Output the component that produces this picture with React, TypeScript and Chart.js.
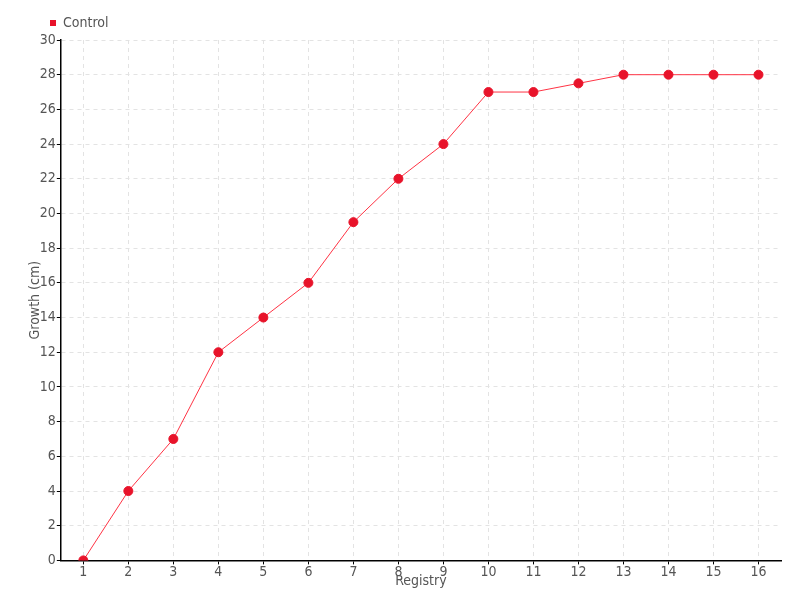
import React, { useEffect, useRef } from "react";
import { Chart, registerables } from "chart.js";

Chart.register(...registerables);

const categories = ["1", "2", "3", "4", "5", "6", "7", "8", "9", "10", "11", "12", "13", "14", "15", "16"];
const controlValues = [0, 4, 7, 12, 14, 16, 19.5, 22, 24, 27, 27, 27.5, 28, 28, 28, 28];
const seriesName = "Control";
const xTitle = "Registry";
const yTitle = "Growth (cm)";

const FONT = "'Liberation Sans Narrow', 'DejaVu Sans Condensed', 'DejaVu Sans', sans-serif";

export default function App() {
  const ref = useRef<HTMLCanvasElement>(null);
  useEffect(() => {
    document.body.style.margin = "0";
    const chart = new Chart(ref.current!, {
      type: "line",
      data: {
        labels: categories,
        datasets: [
          {
            label: seriesName,
            data: controlValues,
            borderColor: "#ff3344",
            backgroundColor: "#e8132a",
            pointBackgroundColor: "#e8132a",
            pointBorderColor: "#e8132a",
            borderWidth: 1,
            pointRadius: 4.5,
            pointStyle: "circle",
            tension: 0,
          },
        ],
      },
      options: {
        animation: false,
        responsive: false,
        layout: { padding: { left: 27, right: 19, top: 10, bottom: 10 } },
        plugins: {
          legend: {
            align: "start",
            labels: {
              usePointStyle: true,
              pointStyle: "rect",
              boxWidth: 6,
              boxHeight: 6,
              padding: 6,
              color: "#555",
              font: { family: FONT, size: 14 },
              generateLabels: () => [
                {
                  text: seriesName,
                  fillStyle: "#e8132a",
                  strokeStyle: "#e8132a",
                  lineWidth: 0,
                  pointStyle: "rect",
                  datasetIndex: 0,
                  fontColor: "#555",
                },
              ],
            },
          },
          tooltip: { enabled: false },
        },
        scales: {
          x: {
            offset: true,
            grid: {
              color: "#e3e3e3",
              tickColor: "#000",
              tickLength: 4,
              offset: false,
            },
            border: { color: "#000", width: 1.5, dash: [4, 4] },
            ticks: { color: "#555", font: { family: FONT, size: 14 }, padding: 0, maxRotation: 0 },
            title: { display: true, text: xTitle, color: "#555", font: { family: FONT, size: 14 }, padding: { top: -8, bottom: 0 } },
          },
          y: {
            min: 0,
            max: 30,
            ticks: { stepSize: 2, color: "#555", font: { family: FONT, size: 14 }, padding: 1 },
            grid: { color: "#e3e3e3", tickColor: "#000", tickLength: 4 },
            border: { color: "#000", width: 1.5, dash: [4, 4] },
            title: { display: true, text: yTitle, color: "#555", font: { family: FONT, size: 14 }, padding: { top: 0, bottom: -5 } },
          },
        },
      },
      plugins: [
        {
          id: "legendShift",
          afterLayout(c: any) {
            if (c.legend) {
              c.legend.left += 17;
              c.legend.right += 17;
            }
          },
        },
      ],
    } as any);
    return () => chart.destroy();
  }, []);
  return (
    <div style={{ position: "absolute", left: 0, top: 0, width: 800, height: 600 }}>
      <canvas ref={ref} width={800} height={600} style={{ width: 800, height: 600 }} />
    </div>
  );
}
